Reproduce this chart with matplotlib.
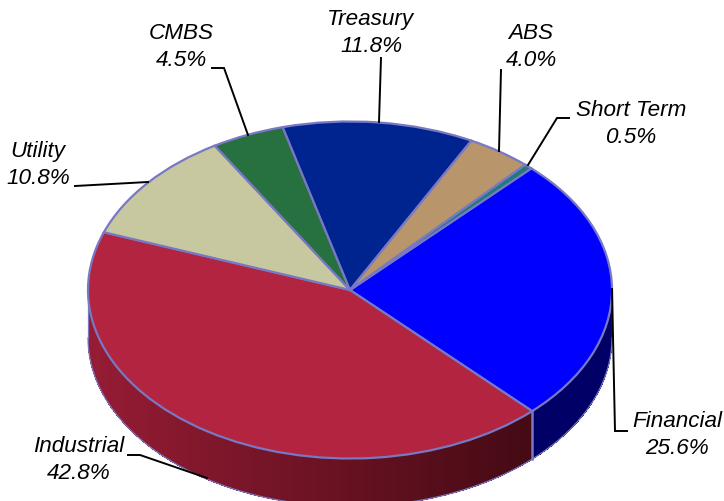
import numpy as np
import matplotlib
matplotlib.use('Agg')
import matplotlib.pyplot as plt

plt.rcParams['font.family'] = ['Liberation Sans', 'DejaVu Sans']

# slices, clockwise from the top right edge of Financial
names = ['Financial', 'Industrial', 'Utility', 'CMBS', 'Treasury', 'ABS', 'Short Term']
shares = [25.6, 42.8, 10.8, 4.5, 11.8, 4.0, 0.5]
colors = ['#0000ff', '#b2243f', '#c8c8a0', '#27703f', '#00248f', '#b8956a', '#1f7a7a']

W, H = 724, 501
cx, cy = 350, 290      # pie centre in pixels
rx, ry = 262, 168.5    # squashed radii
depth = 48 / ry
start = 46.2
edge = '#7878c4'

fig = plt.figure(figsize=(W / 100, H / 100), dpi=100)
ax = fig.add_axes([0, 0, 1, 1])

# side wall goes first, lies under the top face
a_fin_end = start - 3.6 * shares[0]


def side_strip(a0, a1, col):
    # no antialiasing, otherwise the seams between strips show up
    th = np.radians([a0, a1, a1, a0])
    xs = np.cos(th)
    ys = np.sin(th) - np.array([0, 0, depth, depth])
    ax.fill(xs, ys, facecolor=col, edgecolor='none', antialiased=False, zorder=1)


# Financial, flat navy
side_strip_angles = np.linspace(a_fin_end, 0, 60)
for a0, a1 in zip(side_strip_angles[:-1], side_strip_angles[1:]):
    side_strip(a0, a1 + 0.5, '#000066')

# Industrial, shaded darker towards the right
steps = np.linspace(-180, a_fin_end, 200)
left = np.array([150, 28, 52]) / 255
right = np.array([68, 10, 20]) / 255
for a0, a1 in zip(steps[:-1], steps[1:]):
    t = (np.cos(np.radians(a0)) + 1) / (1 + np.cos(np.radians(a_fin_end)))
    side_strip(a0, min(a1 + 0.5, a_fin_end), tuple(left + (right - left) * t))

# outline of the wall
outer = np.radians(np.linspace(-180, 0, 200))
ax.plot(np.cos(outer), np.sin(outer) - depth, color=edge, lw=0.9, zorder=2)
ax.plot([-1, -1], [0, -depth], color=edge, lw=0.9, zorder=2)
ax.plot([1, 1], [0, -depth], color=edge, lw=0.9, zorder=2)
seam = np.radians(a_fin_end)
ax.plot([np.cos(seam)] * 2, [np.sin(seam), np.sin(seam) - depth], color=edge, lw=1.8, zorder=2)

wedges, _ = ax.pie(shares, colors=colors, startangle=start, counterclock=False,
                   radius=1, wedgeprops={'edgecolor': edge, 'linewidth': 1.6, 'zorder': 3})
ax.set_aspect('auto')
ax.set_xlim((0 - cx) / rx, (W - cx) / rx)
ax.set_ylim((cy - H) / ry, cy / ry)
ax.axis('off')

# labels and leaders in pixel coordinates
over = fig.add_axes([0, 0, 1, 1], facecolor='none')
over.set_xlim(0, W)
over.set_ylim(H, 0)
over.axis('off')

label_text = ['Financial\n25.6%', 'Industrial\n42.8%', 'Utility\n10.8%', 'CMBS\n4.5%',
              'Treasury\n11.8%', 'ABS\n4.0%', 'Short Term\n0.5%']
label_x = [677, 79, 38, 181, 371, 531, 631]
label_y = [435, 460, 165, 47, 33, 47, 124]
leader_x = [[612, 615, 627], [128, 140, 207], [75, 148], [212, 224, 248],
            [381, 379], [501, 499], [569, 557, 528]]
leader_y = [[289, 431, 431], [455, 455, 478], [186, 182], [68, 68, 135],
            [58, 122], [70, 151], [118, 118, 165]]

for i in range(len(names)):
    over.text(label_x[i], label_y[i], label_text[i], ha='center', va='center',
              style='italic', fontsize=16.2, color='black', linespacing=1.4)
    over.plot(leader_x[i], leader_y[i], color='black', lw=1.4, solid_joinstyle='miter')

fig.savefig('out.png', dpi=100)
